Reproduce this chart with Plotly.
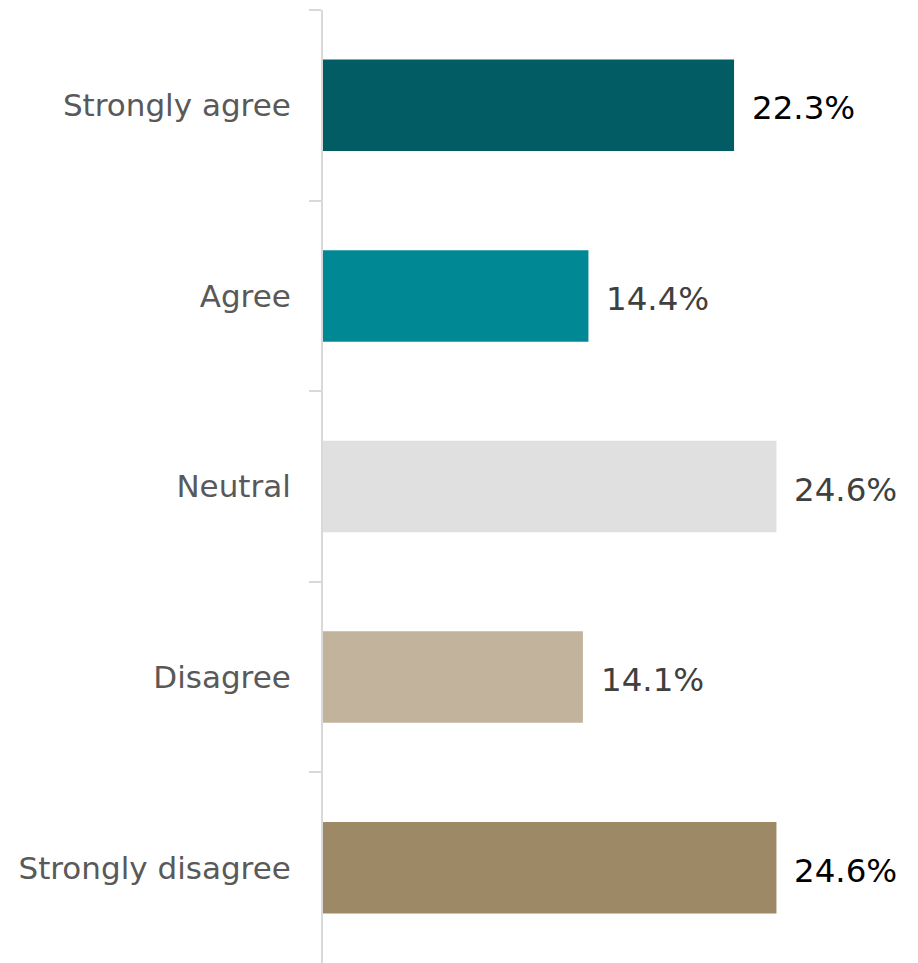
import plotly.graph_objects as go

categories = ["Strongly agree", "Agree", "Neutral", "Disagree", "Strongly disagree"]
values = [22.3, 14.4, 24.6, 14.1, 24.6]
value_labels = ["22.3%", "14.4%", "24.6%", "14.1%", "24.6%"]
bar_colors = ["#025C63", "#008894", "#DFE0DF", "#C2B39D", "#9E8966"]
label_colors = ["#000000", "#404040", "#404040", "#404040", "#000000"]

FONT = "DejaVu Sans, Verdana, sans-serif"

fig = go.Figure()
fig.add_trace(go.Bar(
    x=values, y=categories, orientation="h",
    marker=dict(color=bar_colors, line=dict(width=0)),
    hoverinfo="skip",
))

for c, v, t, col in zip(categories, values, value_labels, label_colors):
    fig.add_annotation(x=v, y=c, text=t, showarrow=False, xanchor="left",
                       xshift=16, yshift=-3, yanchor="middle",
                       font=dict(family=FONT, size=32.5, color=col))

fig.update_layout(
    width=910, height=955,
    margin=dict(l=315, r=42, t=2, b=0),
    paper_bgcolor="white", plot_bgcolor="white",
    bargap=0.52,
    showlegend=False,
    xaxis=dict(range=[0, 30], visible=False, fixedrange=True),
    yaxis=dict(
        autorange="reversed", type="category",
        showline=True, linecolor="#D9D9D9", linewidth=2,
        ticks="outside", tickson="boundaries", ticklen=12, tickcolor="#D9D9D9", tickwidth=2,
        showgrid=False, zeroline=False,
        tickfont=dict(family=FONT, size=31, color="#595959"),
        ticklabelstandoff=24,
    ),
)

fig.write_html("out.html")
